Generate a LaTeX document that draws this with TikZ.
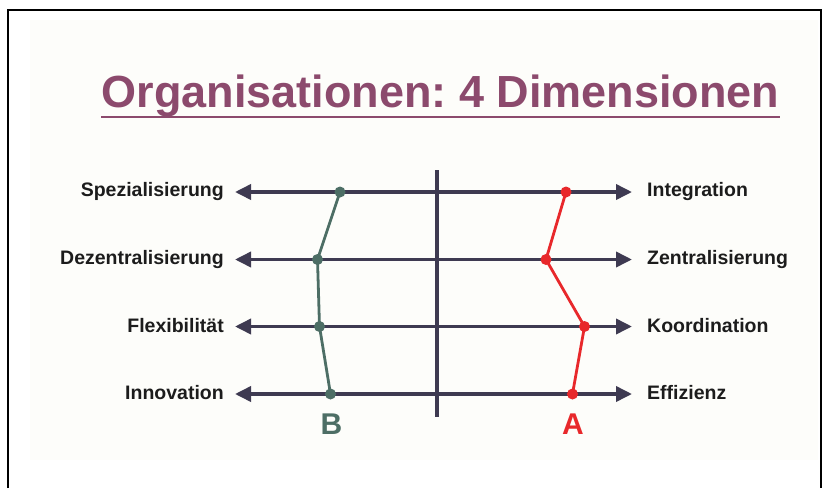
\documentclass[tikz,border=0pt]{standalone}
\usepackage{fontspec}
\setmainfont{Liberation Sans}
\frenchspacing
\usetikzlibrary{arrows.meta}
\definecolor{axiscol}{HTML}{3E3A51}
\definecolor{bcol}{HTML}{4D6E65}
\definecolor{acol}{HTML}{E8282B}
\definecolor{titlecol}{HTML}{8C4A6D}
\definecolor{cream}{HTML}{FDFDFA}
\definecolor{labelcol}{HTML}{1C1C1C}
\begin{document}
\begin{tikzpicture}[x=1pt,y=-1pt,
  axis/.style={draw=axiscol,line width=3.6pt,{Triangle[length=16pt,width=15pt]}-{Triangle[length=16pt,width=15pt]}},
  leftlab/.style={anchor=east,inner sep=0pt,text=labelcol,font=\fontsize{19.5}{21}\selectfont\bfseries},
  rightlab/.style={anchor=west,inner sep=0pt,text=labelcol,font=\fontsize{19.5}{21}\selectfont\bfseries},
  bline/.style={draw=bcol,line width=2.8pt},
  aline/.style={draw=acol,line width=2.8pt},
  bdot/.style={circle,fill=bcol,inner sep=0pt,minimum size=11pt},
  adot/.style={circle,fill=acol,inner sep=0pt,minimum size=11pt}]
\useasboundingbox (0,0) rectangle (823,488);
\fill[white] (0,0) rectangle (823,488);
\fill[cream] (30,20) rectangle (818,460);
\draw[black,line width=2pt] (8,488) -- (8,10) -- (821,10) -- (821,488);
% title
\node[anchor=base,inner sep=0pt,text=titlecol,font=\fontsize{45}{50}\selectfont\bfseries] (title) at (440.5,107) {Organisationen: 4 Dimensionen};
\draw[titlecol,line width=2.5pt] (title.west |- 0,117) -- (title.east |- 0,117);
% axes coordinates
\coordinate (l1) at (235,192); \coordinate (r1) at (632,192);
\coordinate (l2) at (235,259.5); \coordinate (r2) at (632,259.5);
\coordinate (l3) at (235,326.5); \coordinate (r3) at (632,326.5);
\coordinate (l4) at (235,394); \coordinate (r4) at (632,394);
\draw[axis] (l1) -- (r1);
\draw[axis] (l2) -- (r2);
\draw[axis] (l3) -- (r3);
\draw[axis] (l4) -- (r4);
\coordinate (vtop) at (437,170); \coordinate (vbot) at (437,417);
\draw[axiscol,line width=3.6pt] (vtop) -- (vbot);
% labels
\node[leftlab] (s) at (224,191) {Spezialisierung};
\node[leftlab] (d) at (224,259) {Dezentralisierung};
\node[leftlab] (f) at (224,326) {Flexibilität};
\node[leftlab] (i) at (224,393) {Innovation};
\node[rightlab] (ig) at (647,191) {Integration};
\node[rightlab] (z) at (647,259) {Zentralisierung};
\node[rightlab] (k) at (647,326) {Koordination};
\node[rightlab] (e) at (647,393) {Effizienz};
% profile B
\node[bdot] (b1) at (340,192) {};
\node[bdot] (b2) at (317.5,259.5) {};
\node[bdot] (b3) at (319.5,326.5) {};
\node[bdot] (b4) at (330.5,394) {};
\draw[bline] (b1.center) -- (b2.center) -- (b3.center) -- (b4.center);
% profile A
\node[adot] (a1) at (566,192) {};
\node[adot] (a2) at (546,259.5) {};
\node[adot] (a3) at (584.5,326.5) {};
\node[adot] (a4) at (572.5,394) {};
\draw[aline] (a1.center) -- (a2.center) -- (a3.center) -- (a4.center);
% letters
\node[text=bcol,font=\fontsize{30}{32}\selectfont\bfseries,inner sep=0pt] (B) at (331.5,424.5) {B};
\node[text=acol,font=\fontsize{30}{32}\selectfont\bfseries,inner sep=0pt] (A) at (573,424.5) {A};
\end{tikzpicture}
\end{document}
